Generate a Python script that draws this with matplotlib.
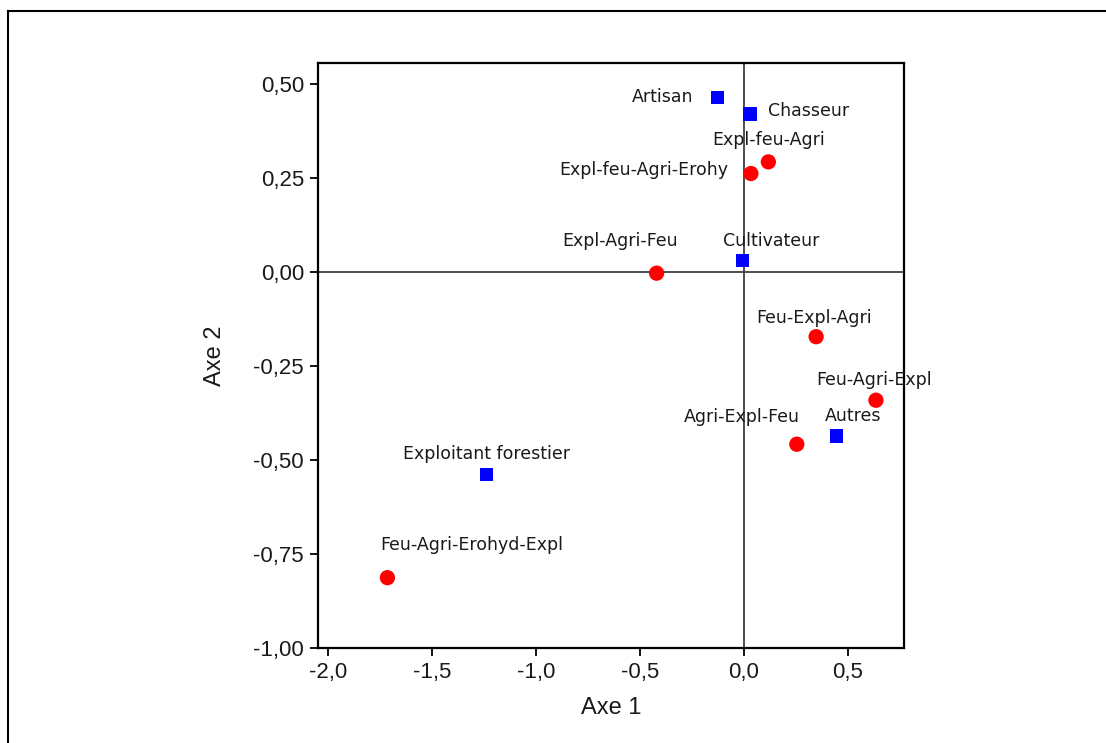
import matplotlib
matplotlib.use("Agg")
import matplotlib.pyplot as plt
from matplotlib.lines import Line2D
from matplotlib.ticker import FixedLocator, FuncFormatter

# Blue squares (categories of actors)
sq_labels = ["Artisan", "Chasseur", "Cultivateur", "Exploitant forestier", "Autres"]
sq_x = [-0.128, 0.030, -0.008, -1.240, 0.447]
sq_y = [0.465, 0.420, 0.031, -0.539, -0.436]

# Red circles (activity sequences)
ci_labels = ["Expl-feu-Agri", "Expl-feu-Agri-Erohy", "Expl-Agri-Feu",
             "Feu-Agri-Erohyd-Expl", "Feu-Expl-Agri", "Feu-Agri-Expl",
             "Agri-Expl-Feu"]
ci_x = [0.118, 0.034, -0.420, -1.716, 0.348, 0.636, 0.255]
ci_y = [0.293, 0.262, -0.003, -0.813, -0.172, -0.341, -0.458]

x_ticks = [-2.0, -1.5, -1.0, -0.5, 0.0, 0.5]
y_ticks = [-1.00, -0.75, -0.50, -0.25, 0.00, 0.25, 0.50]

# label placement (pixel offsets, alignment)
sq_place = {
    "Artisan": (-24, 0, "right"),
    "Chasseur": (18, 3, "left"),
    "Cultivateur": (29, 19, "center"),
    "Exploitant forestier": (0, 21, "center"),
    "Autres": (16, 20, "center"),
}
ci_place = {
    "Expl-feu-Agri": (0, 22, "center"),
    "Expl-feu-Agri-Erohy": (-23, 4, "right"),
    "Expl-Agri-Feu": (-37, 32, "center"),
    "Feu-Agri-Erohyd-Expl": (84, 33, "center"),
    "Feu-Expl-Agri": (-2, 19, "center"),
    "Feu-Agri-Expl": (-2, 20, "center"),
    "Agri-Expl-Feu": (-55, 27, "center"),
}

fig = plt.figure(figsize=(11.06, 7.43), dpi=100)
ax = fig.add_axes([318/1106, 1 - 648/743, (904-318)/1106, (648-63)/743])

ax.set_xlim(-2.05, 0.771)
ax.set_ylim(-1.0, 0.556)

ax.axhline(0, color="#404040", lw=1.3, zorder=1)
ax.axvline(0, color="#404040", lw=1.3, zorder=1)

ax.scatter(ci_x, ci_y, marker="o", s=11**2, color="#ff0000", edgecolors="none", zorder=3)
ax.scatter(sq_x, sq_y, marker="s", s=9.6**2, color="#0000ff", edgecolors="none", zorder=3)

lab_font = dict(family="DejaVu Sans", fontsize=12.5, color="#1a1a1a")
for lab, x, y in zip(sq_labels, sq_x, sq_y):
    dx, dy, ha = sq_place[lab]
    ax.annotate(lab, (x, y), xytext=(dx, dy), textcoords="offset pixels",
                ha=ha, va="center", **lab_font, annotation_clip=False)
for lab, x, y in zip(ci_labels, ci_x, ci_y):
    dx, dy, ha = ci_place[lab]
    ax.annotate(lab, (x, y), xytext=(dx, dy), textcoords="offset pixels",
                ha=ha, va="center", **lab_font, annotation_clip=False)

ax.xaxis.set_major_locator(FixedLocator(x_ticks))
ax.yaxis.set_major_locator(FixedLocator(y_ticks))
ax.xaxis.set_major_formatter(FuncFormatter(lambda v, p: f"{v:.1f}".replace(".", ",")))
ax.yaxis.set_major_formatter(FuncFormatter(lambda v, p: f"{v:.2f}".replace(".", ",")))

for t in ax.get_xticklabels() + ax.get_yticklabels():
    t.set_fontfamily("Liberation Sans")
    t.set_fontsize(16)
    t.set_color("#1a1a1a")
ax.tick_params(direction="out", length=6, width=1.3, pad=4, color="black")

for s in ax.spines.values():
    s.set_linewidth(1.6)
    s.set_color("black")

ax.set_xlabel("Axe 1", fontfamily="Liberation Sans", fontsize=17, color="#1a1a1a", labelpad=10)
ax.set_ylabel("Axe 2", fontfamily="Liberation Sans", fontsize=17, color="#1a1a1a", labelpad=20)

# outer frame (top and left lines)
fig.add_artist(Line2D([8/1106, 8/1106], [0, 1 - 11/743], transform=fig.transFigure, color="black", lw=1.5))
fig.add_artist(Line2D([8/1106, 1], [1 - 11/743, 1 - 11/743], transform=fig.transFigure, color="black", lw=1.5))

fig.savefig("out.png", dpi=100)
